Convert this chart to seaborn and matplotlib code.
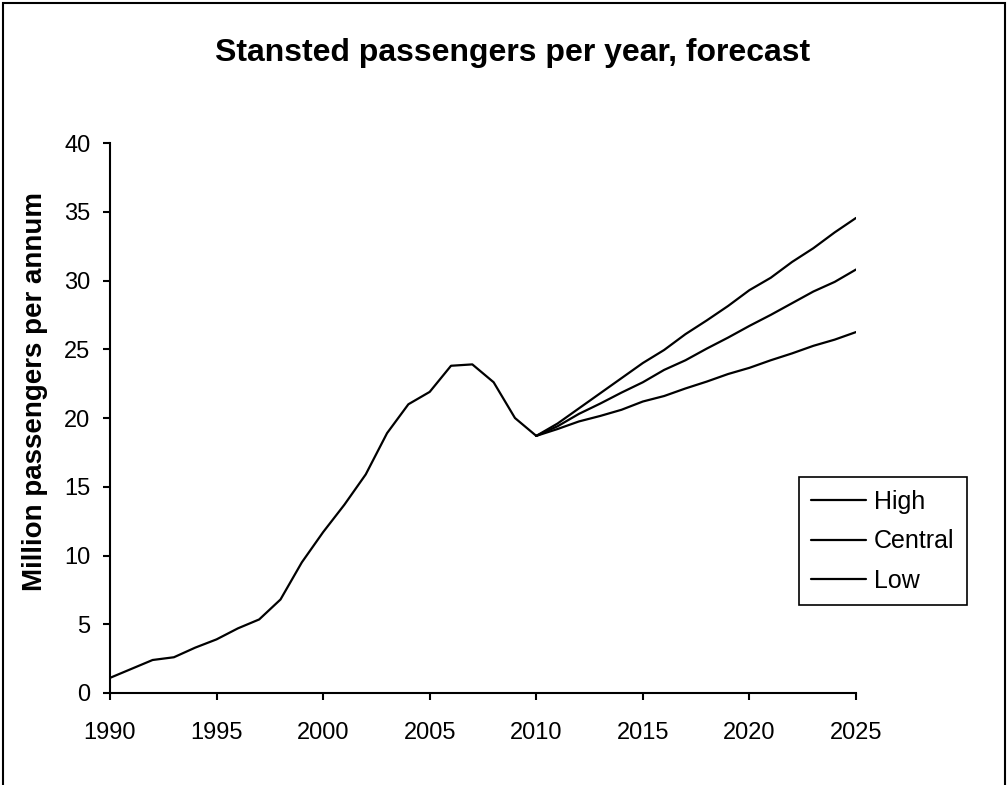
import matplotlib
matplotlib.use('Agg')
import matplotlib.pyplot as plt
import seaborn as sns
from matplotlib.patches import Rectangle

sns.set_style('ticks')
plt.rcParams['font.family'] = ['Liberation Sans', 'DejaVu Sans']
plt.rcParams['text.color'] = 'black'
plt.rcParams['axes.labelcolor'] = 'black'
plt.rcParams['xtick.color'] = 'black'
plt.rcParams['ytick.color'] = 'black'

# historical passengers (million per annum)
hist_years = list(range(1990, 2011))
hist_values = [1.1, 1.75, 2.4, 2.6, 3.3, 3.9, 4.7, 5.35, 6.8, 9.5, 11.7,
               13.7, 15.9, 18.9, 21.0, 21.9, 23.8, 23.9, 22.6, 20.0, 18.7]

# forecast scenarios, starting at 2010
fc_years = list(range(2010, 2026))
high = [18.7, 19.6, 20.7, 21.8, 22.9, 24.0, 24.95, 26.1, 27.1, 28.15, 29.3,
        30.2, 31.35, 32.35, 33.5, 34.55]
central = [18.7, 19.4, 20.3, 21.05, 21.85, 22.6, 23.5, 24.2, 25.05, 25.85, 26.7,
           27.5, 28.35, 29.2, 29.9, 30.8]
low = [18.7, 19.2, 19.75, 20.15, 20.6, 21.2, 21.6, 22.15, 22.65, 23.2, 23.65,
       24.2, 24.7, 25.25, 25.7, 26.25]
series_names = ['High', 'Central', 'Low']

fig = plt.figure(figsize=(10.08, 7.85), dpi=100)
ax = fig.add_axes([0.1091, 0.1172, 0.7401, 0.7006])

lw = 1.6
sns.lineplot(x=hist_years, y=hist_values, color='black', linewidth=lw, ax=ax)
for name, vals in zip(series_names, [high, central, low]):
    sns.lineplot(x=fc_years, y=vals, color='black', linewidth=lw, ax=ax, label=name)

ax.set_xlim(1990, 2025)
ax.set_ylim(0, 40)
ax.set_xticks(range(1990, 2026, 5))
ax.set_yticks(range(0, 41, 5))
ax.tick_params(axis='both', labelsize=17, width=1.5, length=5, direction='out')
ax.tick_params(axis='x', pad=16)
ax.tick_params(axis='y', pad=9)
ax.set_xlabel('')
ax.set_ylabel('Million passengers per annum', fontsize=20, fontweight='bold')
ax.yaxis.set_label_coords(-0.083, 0.548)
for side in ['left', 'bottom']:
    ax.spines[side].set_linewidth(1.5)
    ax.spines[side].set_color('black')
sns.despine(ax=ax)

leg = ax.legend(loc='upper left', bbox_to_anchor=(0.9236, 0.392), borderaxespad=0,
                frameon=True, fancybox=False, edgecolor='black', fontsize=18,
                handlelength=2.2, labelspacing=0.62, handletextpad=0.3,
                borderpad=0.5)
leg.get_frame().set_linewidth(1.2)
leg.get_frame().set_alpha(1)

fig.text(0.508, 0.9325, 'Stansted passengers per year, forecast', ha='center', va='center',
         fontsize=23, fontweight='bold')

# outer chart frame
fig.patches.append(Rectangle((0.003, -0.02), 0.994, 1.016, transform=fig.transFigure,
                             fill=False, edgecolor='black', linewidth=1.5))

fig.savefig('out.png', dpi=100)
